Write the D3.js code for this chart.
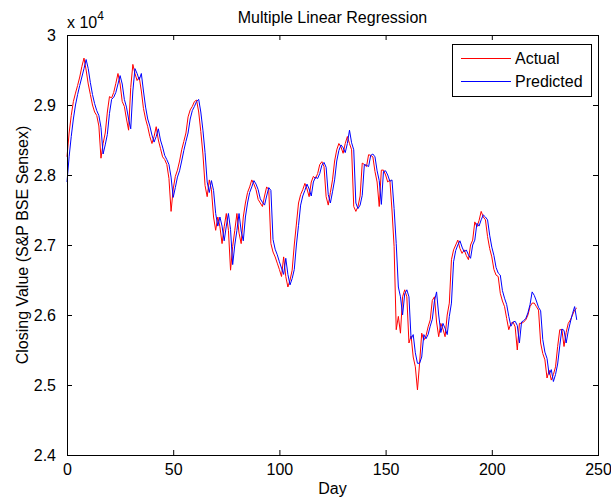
<!DOCTYPE html>
<html>
<head>
<meta charset="utf-8">
<script src="https://cdn.jsdelivr.net/npm/d3@7"></script>
<style>
    body { margin: 0; background: #fff; }
    svg text { font-family: "Liberation Sans", Arial, sans-serif; font-size: 16px; fill: #000; }
</style>
</head>
<body>
<div id="chart"></div>
<script>
// closing values, one per day starting at day 0
var actual = [
    28260, 28600, 28850, 29050, 29170, 29280, 29400, 29550, 29670, 29500,
    29300, 29150, 29000, 28900, 28850, 28700, 28240, 28450, 28600, 28900,
    29120, 29100, 29180, 29310, 29450, 29300, 29050, 28980, 28800, 28640,
    29250, 29580, 29450, 29350, 29400, 29200, 28950, 28800, 28690, 28550,
    28450, 28550, 28690, 28500, 28380, 28260, 28220, 28150, 27950, 27480,
    27800, 27980, 28070, 28200, 28360, 28480, 28600, 28830, 28930, 28980,
    29050, 29070, 28900, 28620, 28300, 27850, 27690, 27930, 27790, 27400,
    27210, 27400, 27260, 27020, 27260, 27450, 27210, 26640, 26980, 27210,
    27450, 27170, 27020, 27400, 27600, 27750, 27830, 27930, 27870, 27790,
    27650, 27600, 27550, 27700, 27830, 27790, 27020, 26900, 26830, 26740,
    26650, 26550, 26830, 26550, 26400, 26500, 26640, 27000, 27300, 27600,
    27720, 27790, 27880, 27800, 27690, 27900, 27980, 27950, 28020, 28150,
    28190, 28120, 27690, 27570, 27750, 27930, 28200, 28360, 28450, 28400,
    28310, 28450, 28550, 28450, 28360, 27550, 27480, 27550, 27700, 28170,
    28150, 28120, 28290, 28280, 28260, 28050, 27900, 27550, 28070, 28070,
    28000, 27900, 27930, 27500, 26980, 25790, 25980, 25740, 26260, 26360,
    26260, 25600, 25700, 25400, 25260, 24930, 25310, 25740, 25640, 25700,
    25830, 25930, 26210, 26260, 25900, 25690, 25880, 25800, 25690, 26000,
    26170, 26790, 26930, 27000, 27070, 26950, 26880, 26930, 26850, 26790,
    27000, 27070, 27330, 27260, 27350, 27480, 27400, 27360, 27120, 26950,
    26830, 26650, 26570, 26550, 26310, 26200, 26120, 25950, 25790, 25880,
    25900, 25830, 25500, 25880, 25880, 25900, 25930, 26000, 26120, 26170,
    26170, 26120, 26070, 25600, 25450, 25360, 25100, 25210, 25070, 25150,
    25260, 25550, 25790, 25790, 25550, 25750, 25880, 25930, 26000, 26070,
    26100
];
var predicted = [
    27900, 28260, 28550, 28800, 29000, 29150, 29280, 29400, 29520, 29650,
    29520, 29320, 29150, 29020, 28920, 28850, 28680, 28300, 28430, 28580,
    28880, 29080, 29110, 29180, 29300, 29420, 29300, 29080, 28970, 28800,
    28660, 29200, 29520, 29450, 29360, 29450, 29200, 28970, 28800, 28700,
    28570, 28470, 28550, 28660, 28500, 28400, 28280, 28220, 28150, 27970,
    27680, 27820, 27970, 28060, 28200, 28350, 28480, 28600, 28800, 28920,
    28980, 29050, 29080, 28900, 28640, 28320, 27900, 27750, 27920, 27780,
    27450, 27270, 27400, 27270, 27060, 27270, 27450, 27220, 26720, 27000,
    27210, 27450, 27200, 27060, 27400, 27600, 27750, 27830, 27920, 27870,
    27790, 27660, 27610, 27570, 27700, 27820, 27780, 27080, 26940, 26860,
    26760, 26670, 26580, 26810, 26580, 26430, 26520, 26650, 27000, 27280,
    27570, 27700, 27780, 27870, 27800, 27700, 27900, 27970, 27950, 28020,
    28140, 28180, 28110, 27720, 27600, 27760, 27930, 28200, 28350, 28430,
    28390, 28320, 28450, 28640, 28460, 28360, 27600, 27520, 27570, 27710,
    28150, 28140, 28120, 28280, 28300, 28260, 28060, 27920, 27580, 28050,
    28060, 28000, 27910, 27930, 27520, 27020, 26400, 26260, 26000, 26300,
    26360, 26260, 25660, 25720, 25460, 25310, 25310, 25400, 25720, 25660,
    25720, 25840, 25940, 26200, 26330, 26000, 25750, 25880, 25810, 25720,
    25980, 26170, 26760, 26920, 27000, 27060, 26970, 26900, 26930, 26860,
    26810, 27000, 27070, 27310, 27270, 27360, 27430, 27400, 27360, 27140,
    26970, 26850, 26680, 26600, 26570, 26350, 26240, 26150, 25980, 25840,
    25900, 25910, 25850, 25600, 25900, 25920, 25950, 26030, 26150, 26330,
    26280, 26200, 26110, 26060, 25650, 25470, 25380, 25150, 25220, 25050,
    25150, 25300, 25560, 25800, 25780, 25600, 25770, 25900, 26020, 26120,
    25930
];
var days = d3.range(actual.length);
var xTicks = [0, 50, 100, 150, 200, 250];
var yTicks = [24000, 25000, 26000, 27000, 28000, 29000, 30000];
var seriesNames = ['Actual', 'Predicted'];
var seriesColors = ['#ff0000', '#0000ff'];

var width = 611, height = 497;
var margin = {left: 67, right: 13, top: 35, bottom: 42};
var tickLen = 5;

var svg = d3.select('#chart').append('svg')
    .attr('width', width)
    .attr('height', height);

var x = d3.scaleLinear().domain([0, 250]).range([margin.left, width - margin.right]);
var y = d3.scaleLinear().domain([24000, 30000]).range([height - margin.bottom, margin.top]);

// data lines first, axes box on top
var line = d3.line()
    .x(function (d) { return x(d[0]); })
    .y(function (d) { return y(d[1]); });

[actual, predicted].forEach(function (vals, i) {
    svg.append('path')
        .datum(days.map(function (d) { return [d, vals[d]]; }))
        .attr('d', line)
        .attr('fill', 'none')
        .attr('stroke', seriesColors[i])
        .attr('stroke-width', 1);
});

var fmtY = function (d) { return String(+(d / 1e4).toFixed(1)); };

// matlab style: ticks inside on all four sides
svg.append('g')
    .attr('transform', 'translate(0,' + y(24000) + ')')
    .call(d3.axisBottom(x).tickValues(xTicks).tickSizeInner(-tickLen).tickSizeOuter(0).tickPadding(9));
svg.append('g')
    .attr('transform', 'translate(0,' + y(30000) + ')')
    .call(d3.axisTop(x).tickValues(xTicks).tickSizeInner(-tickLen).tickSizeOuter(0).tickFormat(''));
svg.append('g')
    .attr('transform', 'translate(' + x(0) + ',0)')
    .call(d3.axisLeft(y).tickValues(yTicks).tickSizeInner(-tickLen).tickSizeOuter(0).tickPadding(11).tickFormat(fmtY));
svg.append('g')
    .attr('transform', 'translate(' + x(250) + ',0)')
    .call(d3.axisRight(y).tickValues(yTicks).tickSizeInner(-tickLen).tickSizeOuter(0).tickFormat(''));

svg.selectAll('.domain').remove();
svg.selectAll('.tick line').attr('stroke', '#000');
svg.selectAll('.tick text')
    .style('font-family', '"Liberation Sans", Arial, sans-serif')
    .style('font-size', '16px')
    .attr('fill', '#000');

svg.append('rect')
    .attr('x', x(0) + 0.5)
    .attr('y', y(30000) + 0.5)
    .attr('width', x(250) - x(0))
    .attr('height', y(24000) - y(30000))
    .attr('fill', 'none')
    .attr('stroke', '#000')
    .attr('stroke-width', 1);

// title and labels
svg.append('text')
    .attr('x', (x(0) + x(250)) / 2)
    .attr('y', 23)
    .attr('text-anchor', 'middle')
    .text('Multiple Linear Regression');

svg.append('text')
    .attr('x', (x(0) + x(250)) / 2)
    .attr('y', 494)
    .attr('text-anchor', 'middle')
    .text('Day');

svg.append('text')
    .attr('transform', 'translate(28,' + ((y(24000) + y(30000)) / 2) + ') rotate(-90)')
    .attr('text-anchor', 'middle')
    .text('Closing Value (S&P BSE Sensex)');

var mult = svg.append('text')
    .attr('x', 67)
    .attr('y', 28);
mult.append('tspan').text('x 10');
mult.append('tspan').attr('dy', -8).style('font-size', '12px').text('4');

// legend
var lg = svg.append('g').attr('transform', 'translate(452,44)');
lg.append('rect')
    .attr('x', 0.5).attr('y', 0.5)
    .attr('width', 139).attr('height', 52)
    .attr('fill', '#fff')
    .attr('stroke', '#000');
seriesNames.forEach(function (name, i) {
    var yy = 14 + i * 23;
    lg.append('line')
        .attr('x1', 9).attr('x2', 59)
        .attr('y1', yy + 0.5).attr('y2', yy + 0.5)
        .attr('stroke', seriesColors[i]);
    lg.append('text')
        .attr('x', 63)
        .attr('y', yy + 6)
        .text(name);
});
</script>
</body>
</html>
